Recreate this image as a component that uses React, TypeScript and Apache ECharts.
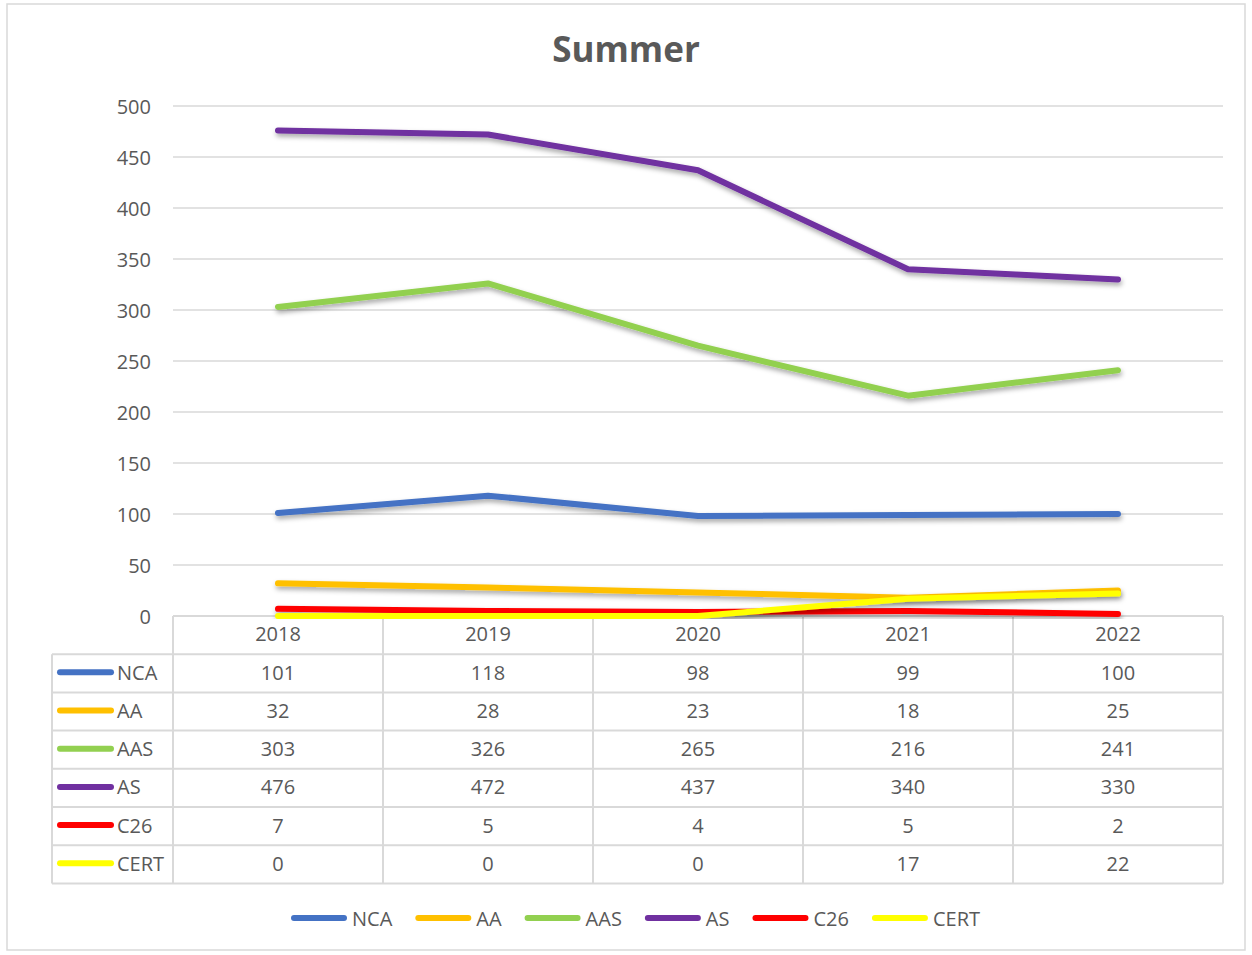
import React, { useEffect, useRef } from "react";
import * as echarts from "echarts";

const categories = ["2018", "2019", "2020", "2021", "2022"];
const seriesNames = ["NCA", "AA", "AAS", "AS", "C26", "CERT"];
const ncaValues = [101, 118, 98, 99, 100];
const aaValues = [32, 28, 23, 18, 25];
const aasValues = [303, 326, 265, 216, 241];
const asValues = [476, 472, 437, 340, 330];
const c26Values = [7, 5, 4, 5, 2];
const certValues = [0, 0, 0, 17, 22];
const seriesColors = ["#4472C4", "#FFC000", "#92D050", "#7030A0", "#FF0000", "#FFFF00"];
const yTicks = { min: 0, max: 500, interval: 50 };

const allValues = [ncaValues, aaValues, aasValues, asValues, c26Values, certValues];

const FONT = "'Open Sans', 'Noto Sans', sans-serif";
const TXT = "#595959";
const BORDER = "#D9D9D9";

export default function App() {
  const ref = useRef<HTMLDivElement>(null);
  useEffect(() => {
    if (!ref.current) return;
    const chart = echarts.init(ref.current, null, { renderer: "svg" });
    const gridLeft = 173;
    const gridRight = 29;
    const gridTop = 106;
    const gridBottom = 339;
    const option: any = {
      animation: false,
      backgroundColor: "#ffffff",
      textStyle: { fontFamily: FONT },
      title: {
        text: "Summer",
        left: "center",
        top: 26,
        textStyle: { fontFamily: FONT, fontSize: 35, fontWeight: "bold", color: TXT },
      },
      grid: { left: gridLeft, right: gridRight, top: gridTop, bottom: gridBottom },
      xAxis: {
        type: "category",
        data: categories,
        boundaryGap: true,
        axisLine: { show: false },
        axisTick: { show: false },
        axisLabel: { fontFamily: FONT, fontSize: 20, color: TXT, margin: 7 },
      },
      yAxis: {
        type: "value",
        min: yTicks.min,
        max: yTicks.max,
        interval: yTicks.interval,
        axisLine: { show: false },
        axisTick: { show: false },
        splitLine: { lineStyle: { color: BORDER, width: 1.5 } },
        axisLabel: { fontFamily: FONT, fontSize: 20, color: TXT, margin: 22 },
      },
      legend: {
        left: 286,
        top: 903,
        itemWidth: 56,
        itemHeight: 6,
        itemGap: 23,
        icon: "path://M3,0 L53,0 A3,3 0 0 1 53,6 L3,6 A3,3 0 0 1 3,0 Z",
        textStyle: { fontFamily: FONT, fontSize: 20, color: TXT },
        data: seriesNames,
      },
      series: seriesNames.map((name, i) => ({
        name,
        type: "line",
        data: allValues[i],
        color: seriesColors[i],
        symbol: "none",
        lineStyle: {
          width: 6,
          color: seriesColors[i],
          cap: "round",
          join: "round",
          shadowColor: "rgba(0,0,0,0.35)",
          shadowBlur: 5,
          shadowOffsetX: 1,
          shadowOffsetY: 3,
        },
        z: 2 + i,
      })),
    };
    chart.setOption(option);

    // Build the data table from axis positions
    const centers = categories.map((c, i) => chart.convertToPixel({ xAxisIndex: 0 } as any, i) as number);
    const step = centers.length > 1 ? centers[1] - centers[0] : 210;
    const zeroY = chart.convertToPixel({ yAxisIndex: 0 } as any, 0) as number;
    const xStart = centers[0] - step / 2;
    const xEnd = centers[centers.length - 1] + step / 2;
    const rowH = 38.2;
    const tableLeft = 52;
    const nRows = seriesNames.length;
    const tableBottom = zeroY + rowH * (nRows + 1);
    const g: any[] = [];
    // outer border
    g.push({
      type: "rect",
      shape: { x: 7, y: 4, width: 1238, height: 946 },
      style: { fill: "none", stroke: BORDER, lineWidth: 1.5 },
      silent: true,
      z: 0,
    });
    // header top line
    g.push({ type: "line", shape: { x1: xStart, y1: zeroY, x2: xEnd, y2: zeroY }, style: { stroke: BORDER, lineWidth: 2 }, z: 1 });
    // row lines
    for (let r = 1; r <= nRows + 1; r++) {
      const y = zeroY + rowH * r;
      g.push({ type: "line", shape: { x1: tableLeft, y1: y, x2: xEnd, y2: y }, style: { stroke: BORDER, lineWidth: 2 }, z: 1 });
    }
    // vertical lines
    g.push({ type: "line", shape: { x1: tableLeft, y1: zeroY + rowH, x2: tableLeft, y2: tableBottom }, style: { stroke: BORDER, lineWidth: 2 }, z: 1 });
    for (let c = 0; c <= categories.length; c++) {
      const x = xStart + step * c;
      g.push({ type: "line", shape: { x1: x, y1: zeroY, x2: x, y2: tableBottom }, style: { stroke: BORDER, lineWidth: 2 }, z: 1 });
    }
    // rows
    seriesNames.forEach((name, r) => {
      const cy = zeroY + rowH * (r + 1) + rowH / 2 - 1;
      g.push({
        type: "line",
        shape: { x1: 60, y1: cy, x2: 111, y2: cy },
        style: { stroke: seriesColors[r], lineWidth: 6, lineCap: "round" },
        z: 3,
      });
      g.push({
        type: "text",
        x: 117,
        y: cy,
        style: { text: name, fontFamily: FONT, fontSize: 20, fill: TXT, align: "left", verticalAlign: "middle" },
        z: 3,
      });
      allValues[r].forEach((v, c) => {
        g.push({
          type: "text",
          x: centers[c],
          y: cy,
          style: { text: String(v), fontFamily: FONT, fontSize: 20, fill: TXT, align: "center", verticalAlign: "middle" },
          z: 3,
        });
      });
    });
    chart.setOption({ graphic: g });
    return () => chart.dispose();
  }, []);
  return (
    <div
      ref={ref}
      style={{ position: "absolute", left: 0, top: 0, width: 1252, height: 955 }}
    />
  );
}
